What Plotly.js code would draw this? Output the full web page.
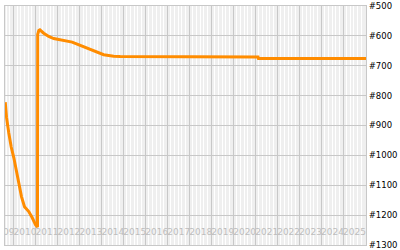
<!DOCTYPE html>
<html>
<head>
<meta charset="utf-8">
<script src="https://cdn.plot.ly/plotly-3.0.1.min.js"></script>
<style>html,body{margin:0;padding:0;background:#fff;}#chart{width:400px;height:250px;}</style>
</head>
<body>
<div id="chart"></div>
<script>
// Rank history (lower number = better rank)
const dates = [
  '2009-08-16','2009-09-06','2009-10-14','2009-11-23','2010-01-06','2010-02-14',
  '2010-03-29','2010-05-13','2010-07-02','2010-09-11','2010-11-06','2011-01-01',
  '2011-02-03','2011-02-07','2011-02-25','2011-03-15','2011-05-18','2011-08-09',
  '2011-10-31','2012-02-19','2012-06-10','2012-09-01','2012-11-23','2013-03-14',
  '2013-07-02','2013-10-21','2014-02-08','2014-07-24','2014-11-11','2021-02-17',
  '2021-02-24','2026-01-17'
];
const ranks = [
  822, 872, 925, 972, 1008, 1048,
  1092, 1138, 1172, 1188, 1208, 1232,
  1240, 595, 582, 580, 591, 602,
  609, 613, 618, 621, 628, 637,
  646, 656, 663, 668, 669, 671,
  676, 676
];
const yearLabels = ['2009','2010','2011','2012','2013','2014','2015','2016','2017',
  '2018','2019','2020','2021','2022','2023','2024','2025'];
const yearDates = yearLabels.map(y => y + '-01-01');
const rankTicks = [500,600,700,800,900,1000,1100,1200,1300];
const rankTickText = rankTicks.map(v => '#' + v);
const labelRank = 1258;

const traces = [
  {
    x: yearDates,
    y: yearLabels.map(() => labelRank),
    text: yearLabels,
    mode: 'text',
    textposition: 'middle right',
    textfont: {family: 'DejaVu Sans', size: 9, color: '#bdbdbd'},
    cliponaxis: true,
    hoverinfo: 'skip',
    showlegend: false
  },
  {
    x: dates,
    y: ranks,
    mode: 'lines',
    line: {color: '#ff8c00', width: 3},
    cliponaxis: true,
    showlegend: false
  }
];

const layout = {
  width: 400, height: 250,
  margin: {l: 5, r: 34, t: 6, b: 5, pad: 0},
  paper_bgcolor: '#ffffff',
  plot_bgcolor: '#efefef',
  showlegend: false,
  xaxis: {
    type: 'date',
    range: ['2009-08-12', '2026-01-17'],
    tick0: '2010-01-01', dtick: 'M12',
    showgrid: true, gridcolor: '#c8c8c8', gridwidth: 1,
    minor: {tick0: '2010-01-01', dtick: 'M2', showgrid: true, gridcolor: '#ffffff', gridwidth: 1},
    showticklabels: false, ticks: '',
    showline: true, linecolor: '#c8c8c8', linewidth: 1, mirror: true,
    zeroline: false, fixedrange: true
  },
  yaxis: {
    range: [1300, 500],
    side: 'right',
    tickvals: rankTicks, ticktext: rankTickText,
    tickfont: {family: 'DejaVu Sans', size: 8.5, color: '#000000'},
    showgrid: true, gridcolor: '#c8c8c8', gridwidth: 1,
    showline: true, linecolor: '#c8c8c8', linewidth: 1, mirror: true,
    ticks: '', zeroline: false, fixedrange: true
  }
};

Plotly.newPlot('chart', traces, layout, {staticPlot: true, displayModeBar: false});
</script>
</body>
</html>
